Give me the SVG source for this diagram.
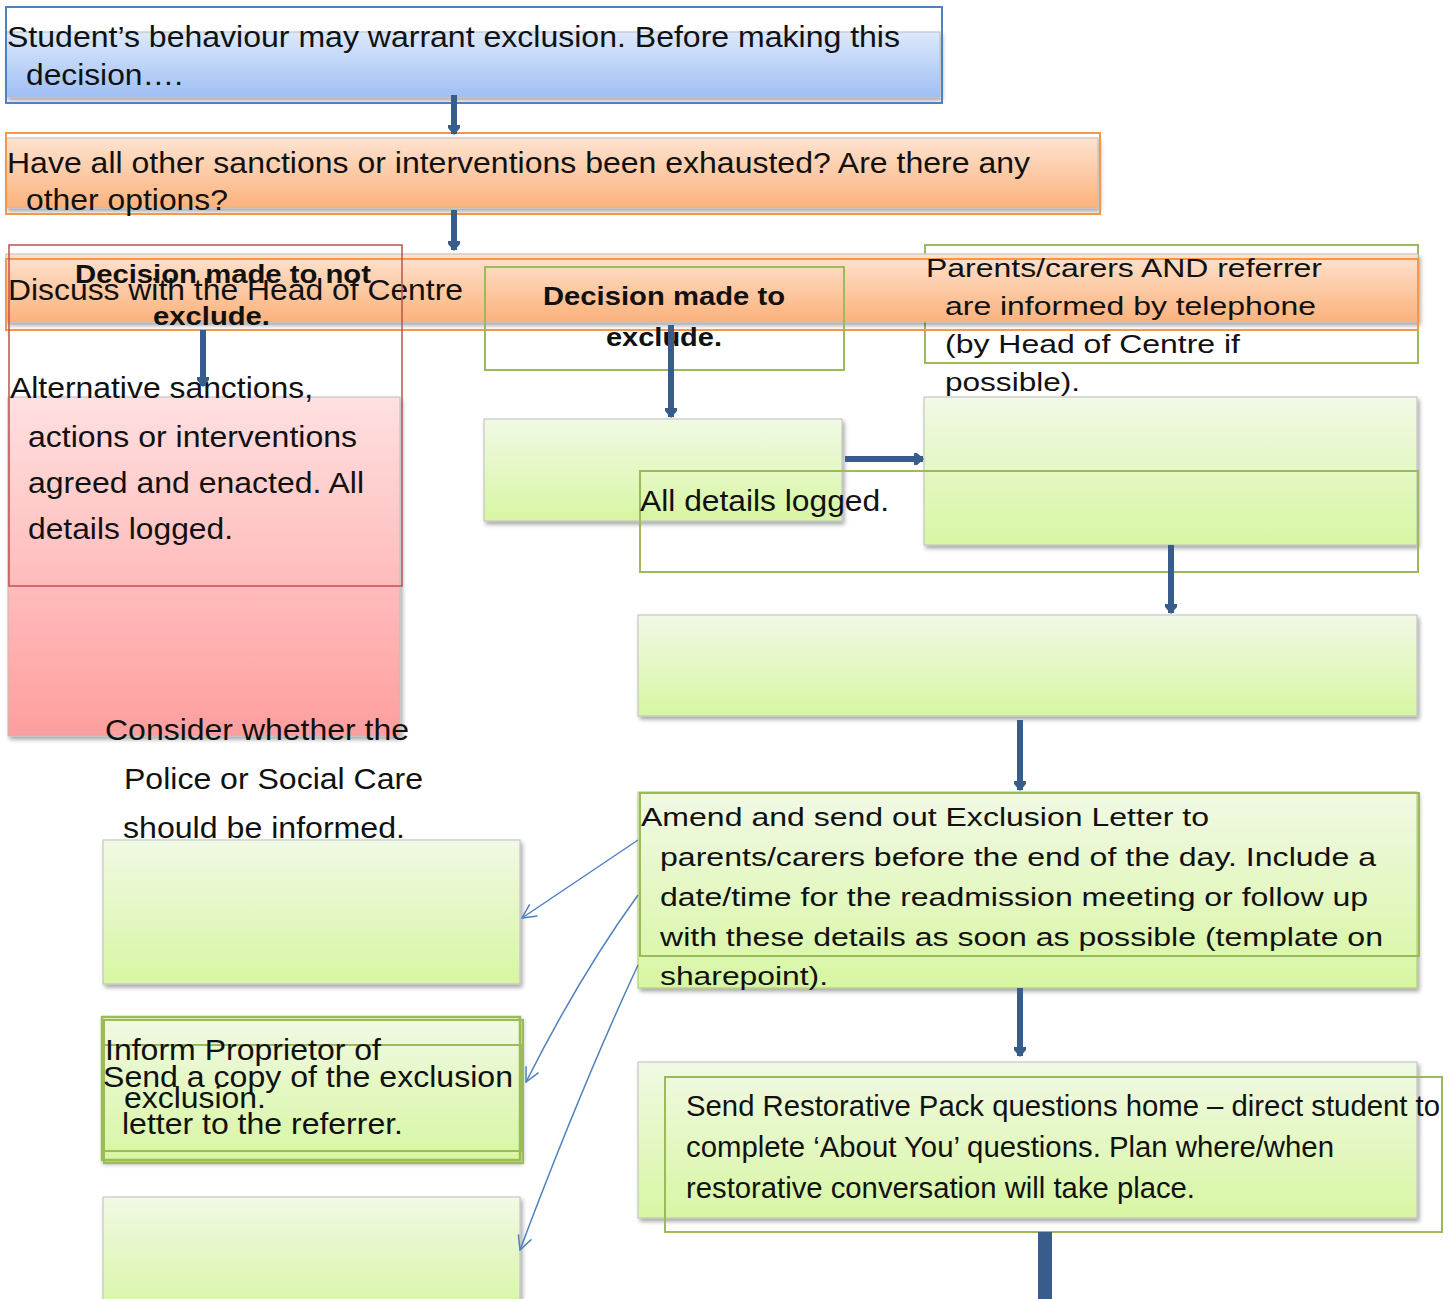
<svg xmlns="http://www.w3.org/2000/svg" width="1456" height="1299" viewBox="0 0 1456 1299">
<defs>
<linearGradient id="gBlue" x1="0" y1="0" x2="0" y2="1"><stop offset="0" stop-color="#dde9fc"/><stop offset="1" stop-color="#9fbff4"/></linearGradient>
<linearGradient id="gOrange" x1="0" y1="0" x2="0" y2="1"><stop offset="0" stop-color="#fee3d0"/><stop offset="1" stop-color="#fbb27c"/></linearGradient>
<linearGradient id="gPink" x1="0" y1="0" x2="0" y2="1"><stop offset="0" stop-color="#ffe0e0"/><stop offset="1" stop-color="#ff9e9e"/></linearGradient>
<linearGradient id="gGreen" x1="0" y1="0" x2="0" y2="1"><stop offset="0" stop-color="#f1f9e5"/><stop offset="1" stop-color="#d7f6a2"/></linearGradient>
<filter id="sh" x="-5%" y="-10%" width="110%" height="130%"><feDropShadow dx="2" dy="3" stdDeviation="2" flood-color="#000" flood-opacity="0.35"/></filter>
<marker id="ah" viewBox="0 0 10 12" refX="9" refY="6" markerWidth="10" markerHeight="12" markerUnits="userSpaceOnUse" orient="auto"><path d="M0,0 L3,0 L10,6 L3,12 L0,12 z" fill="#385d8a"/></marker>
<marker id="oa" viewBox="0 0 16 16" refX="15" refY="8" markerWidth="16" markerHeight="16" markerUnits="userSpaceOnUse" orient="auto"><path d="M1,1 L15,8 L1,15" fill="none" stroke="#4f81bd" stroke-width="1.5"/></marker>
<style>
.t{font-family:"Liberation Sans",Arial,sans-serif;font-size:29px;fill:#111;}
.b{font-weight:bold;}
.s25{font-size:25px;}
.s26{font-size:26px;}
.shape{stroke:#bdbdbd;stroke-width:1;filter:url(#sh);}
.gr{fill:url(#gGreen);}
.ob{fill:none;stroke:#9bbb59;stroke-width:2;}
.con{stroke:#385d8a;stroke-width:6;fill:none;marker-end:url(#ah);}
.thin{stroke:#4f81bd;stroke-width:1.5;fill:none;marker-end:url(#oa);}
</style>
</defs>
<rect width="1456" height="1299" fill="#ffffff"/>

<g id="n-start">
<rect class="shape" x="6" y="32" width="934" height="65" fill="url(#gBlue)"/>
<rect x="6" y="7" width="936" height="96" fill="none" stroke="#4f81bd" stroke-width="2"/>
<text class="t" x="7" y="47" textLength="893" lengthAdjust="spacingAndGlyphs">Student’s behaviour may warrant exclusion. Before making this</text>
<text class="t" x="26" y="85" textLength="157" lengthAdjust="spacingAndGlyphs">decision….</text>
</g>

<g id="n-sanctions">
<rect class="shape" x="6" y="138" width="1092" height="70" fill="url(#gOrange)"/>
<rect x="6" y="133" width="1094" height="81" fill="none" stroke="#f79646" stroke-width="2"/>
<text class="t" x="7" y="173" textLength="1023" lengthAdjust="spacingAndGlyphs">Have all other sanctions or interventions been exhausted? Are there any</text>
<text class="t" x="26" y="210" textLength="202" lengthAdjust="spacingAndGlyphs">other options?</text>
</g>

<g id="n-parents">
<rect x="925" y="245" width="493" height="118" class="ob"/>
</g>

<g id="n-discuss">
<rect class="shape" x="6" y="254" width="1412" height="68" fill="url(#gOrange)"/>
<rect x="6" y="259" width="1412" height="71" fill="none" stroke="#f79646" stroke-width="2"/>
<text class="t" x="8" y="300" textLength="455" lengthAdjust="spacingAndGlyphs">Discuss with the Head of Centre</text>
</g>

<g id="n-parents-text">
<text class="t s25" x="926" y="277" textLength="396" lengthAdjust="spacingAndGlyphs">Parents/carers AND referrer</text>
<text class="t s25" x="945" y="315" textLength="371" lengthAdjust="spacingAndGlyphs">are informed by telephone</text>
<text class="t s25" x="945" y="353" textLength="295" lengthAdjust="spacingAndGlyphs">(by Head of Centre if</text>
<text class="t s25" x="945" y="391" textLength="135" lengthAdjust="spacingAndGlyphs">possible).</text>
</g>

<g id="n-alternative">
<rect class="shape" x="8" y="397" width="392" height="339" fill="url(#gPink)"/>
</g>

<g id="n-not-exclude">
<rect x="9" y="245" width="393" height="341" fill="none" stroke="#c0504d" stroke-width="1.5"/>
<text class="t s25 b" x="75" y="283" textLength="296" lengthAdjust="spacingAndGlyphs">Decision made to not</text>
<text class="t s25 b" x="153" y="325" textLength="117" lengthAdjust="spacingAndGlyphs">exclude.</text>
</g>

<g id="n-exclude">
<rect x="485" y="267" width="359" height="103" class="ob"/>
<text class="t s26 b" x="543" y="305" textLength="242" lengthAdjust="spacingAndGlyphs">Decision made to</text>
<text class="t s26 b" x="606" y="346" textLength="116" lengthAdjust="spacingAndGlyphs">exclude.</text>
</g>

<g id="n-box1"><rect class="shape gr" x="484" y="419" width="358" height="102"/></g>
<g id="n-box2"><rect class="shape gr" x="924" y="397" width="493" height="148"/></g>
<g id="n-logged">
<rect x="640" y="471" width="778" height="101" class="ob"/>
<text class="t" x="640" y="511" textLength="249" lengthAdjust="spacingAndGlyphs">All details logged.</text>
</g>
<g id="n-box3"><rect class="shape gr" x="638" y="615" width="779" height="101"/></g>
<g id="n-box4"><rect class="shape gr" x="103" y="840" width="417" height="144"/></g>

<g id="n-amend">
<rect class="shape gr" x="638" y="792" width="779" height="196" style="stroke:#a9c76f"/>
<rect x="640" y="793" width="779" height="163" class="ob"/>
<text class="t s26" x="641" y="826" textLength="568" lengthAdjust="spacingAndGlyphs">Amend and send out Exclusion Letter to</text>
<text class="t s26" x="660" y="866" textLength="716" lengthAdjust="spacingAndGlyphs">parents/carers before the end of the day. Include a</text>
<text class="t s26" x="660" y="906" textLength="708" lengthAdjust="spacingAndGlyphs">date/time for the readmission meeting or follow up</text>
<text class="t s26" x="660" y="946" textLength="723" lengthAdjust="spacingAndGlyphs">with these details as soon as possible (template on</text>
<text class="t s26" x="660" y="985" textLength="168" lengthAdjust="spacingAndGlyphs">sharepoint).</text>
</g>

<g id="n-inform">
<rect class="shape gr" x="102" y="1017" width="418" height="143" style="stroke:#9bbb59;stroke-width:2.5"/>
<rect x="104" y="1020" width="419" height="143" class="ob"/>
<rect x="104" y="1045" width="418" height="106" class="ob"/>
<text class="t" x="105" y="1060" textLength="276" lengthAdjust="spacingAndGlyphs">Inform Proprietor of</text>
<text class="t" x="124" y="1108" textLength="142" lengthAdjust="spacingAndGlyphs">exclusion.</text>
<text class="t" x="103" y="1087" textLength="410" lengthAdjust="spacingAndGlyphs">Send a copy of the exclusion</text>
<text class="t" x="122" y="1134" textLength="281" lengthAdjust="spacingAndGlyphs">letter to the referrer.</text>
</g>

<g id="n-box7"><rect class="shape gr" x="103" y="1197" width="417" height="120"/></g>

<g id="n-restorative">
<rect class="shape gr" x="638" y="1062" width="779" height="156"/>
<rect x="665" y="1077" width="777" height="155" class="ob"/>
<text class="t" x="686" y="1116" textLength="754" lengthAdjust="spacingAndGlyphs">Send Restorative Pack questions home – direct student to</text>
<text class="t" x="686" y="1157" textLength="648" lengthAdjust="spacingAndGlyphs">complete ‘About You’ questions. Plan where/when</text>
<text class="t" x="686" y="1198" textLength="509" lengthAdjust="spacingAndGlyphs">restorative conversation will take place.</text>
</g>

<g id="n-alternative-text">
<text class="t" x="10" y="398" textLength="303" lengthAdjust="spacingAndGlyphs">Alternative sanctions,</text>
<text class="t" x="28" y="447" textLength="329" lengthAdjust="spacingAndGlyphs">actions or interventions</text>
<text class="t" x="28" y="493" textLength="336" lengthAdjust="spacingAndGlyphs">agreed and enacted. All</text>
<text class="t" x="28" y="539" textLength="205" lengthAdjust="spacingAndGlyphs">details logged.</text>
</g>

<g id="n-consider">
<text class="t" x="105" y="740" textLength="304" lengthAdjust="spacingAndGlyphs">Consider whether the</text>
<text class="t" x="124" y="789" textLength="299" lengthAdjust="spacingAndGlyphs">Police or Social Care</text>
<text class="t" x="123" y="838" textLength="282" lengthAdjust="spacingAndGlyphs">should be informed.</text>
</g>

<g id="connectors">
<line class="con" x1="454" y1="95" x2="454" y2="134"/>
<line class="con" x1="454" y1="210" x2="454" y2="250"/>
<line class="con" x1="203" y1="330" x2="203" y2="386"/>
<line class="con" x1="671" y1="325" x2="671" y2="417"/>
<line class="con" x1="845" y1="459" x2="923" y2="459"/>
<line class="con" x1="1171" y1="545" x2="1171" y2="613"/>
<line class="con" x1="1020" y1="720" x2="1020" y2="790"/>
<line class="con" x1="1020" y1="988" x2="1020" y2="1056"/>
<line x1="1045" y1="1232" x2="1045" y2="1299" stroke="#385d8a" stroke-width="14"/>
<path class="thin" d="M638,840 L522,918"/>
<path class="thin" d="M638,895 Q580,975 526,1082"/>
<path class="thin" d="M638,965 Q580,1090 520,1250"/>
</g>
</svg>
